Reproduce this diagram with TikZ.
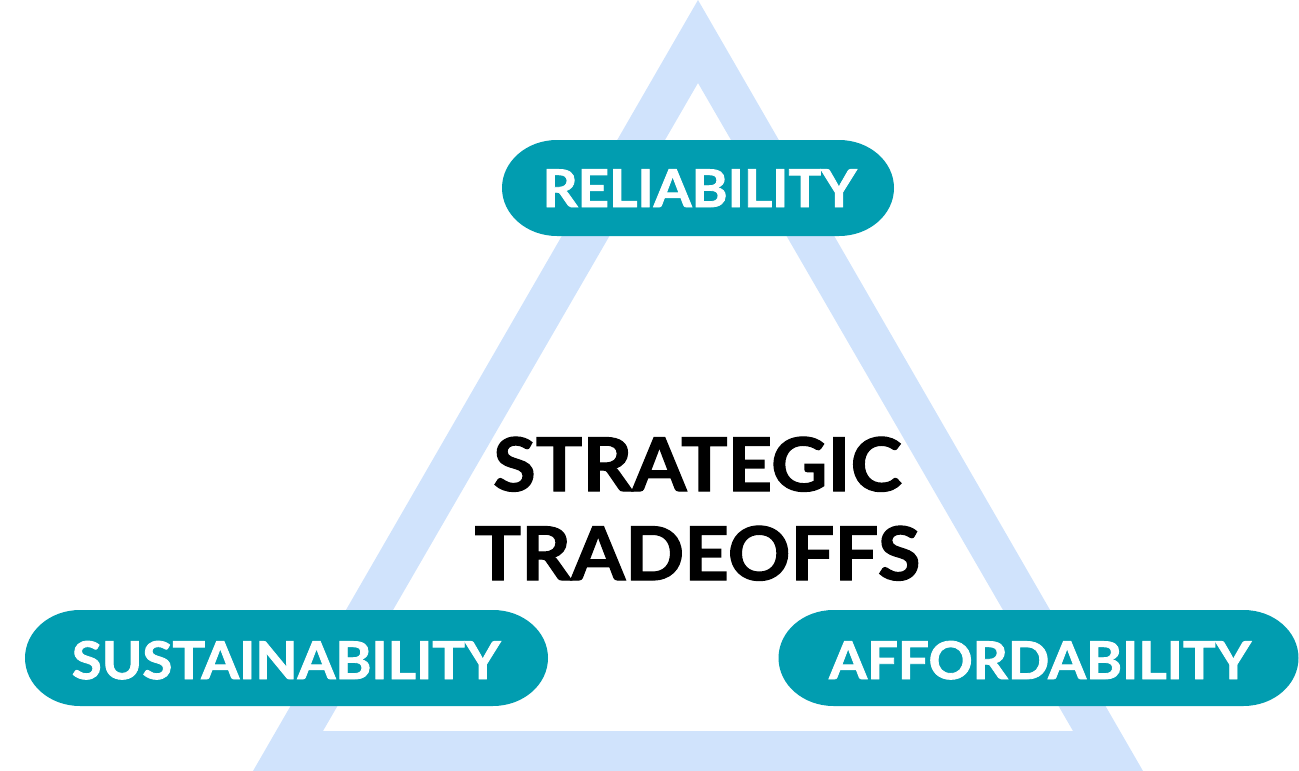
\documentclass[tikz,border=0pt]{standalone}
\usepackage{fontspec}
\setmainfont{Lato}
\newfontfamily\heavyfont{Lato}[BoldFeatures={FakeBold=1.6}]
\definecolor{bandblue}{RGB}{208,227,252}
\definecolor{pillteal}{RGB}{1,157,176}
\tikzset{
  pilltext/.style={text=white,font=\fontsize{52}{52}\selectfont\heavyfont\bfseries,inner sep=0pt,anchor=base},
  titletext/.style={text=black,font=\fontsize{74}{74}\selectfont\heavyfont\bfseries,inner sep=0pt,anchor=base},
}
\newcommand\wide[1]{\scalebox{1.05}[1]{#1}}
\newcommand\mypill[4]{% cx, cy, halfwidth, halfheight
  \fill[pillteal] ({#1-#3+55},{#2-#4}) -- ({#1+#3-55},{#2-#4})
    arc[start angle=90,end angle=-90,x radius=55pt,y radius=#4 pt]
    -- ({#1-#3+55},{#2+#4})
    arc[start angle=270,end angle=90,x radius=55pt,y radius=#4 pt] -- cycle;}
\begin{document}
\begin{tikzpicture}[x=1pt,y=-1pt]
\useasboundingbox (0,0) rectangle (1299,771);
\begin{scope}
\clip (0,0) rectangle (1299,771);
\fill[bandblue,even odd rule] (698,0) -- (253,771) -- (1143,771) -- cycle
  (698,83) -- (1073,731) -- (323,731) -- cycle;
\end{scope}
\mypill{698}{188}{196}{48}
\mypill{286.5}{658}{261.5}{48}
\mypill{1038.5}{658}{260}{48}
\node[pilltext] (rel) at (699.5,207) {\wide{RELIABILITY}};
\node[pilltext] (sus) at (286,679) {\wide{SUSTAINABILITY}};
\node[pilltext] (aff) at (1040,679) {\wide{AFFORDABILITY}};
\node[titletext] (title1) at (697.5,491) {\wide{STRATEGIC}};
\node[titletext] (title2) at (697.5,580) {\wide{TRADEOFFS}};
\end{tikzpicture}
\end{document}
